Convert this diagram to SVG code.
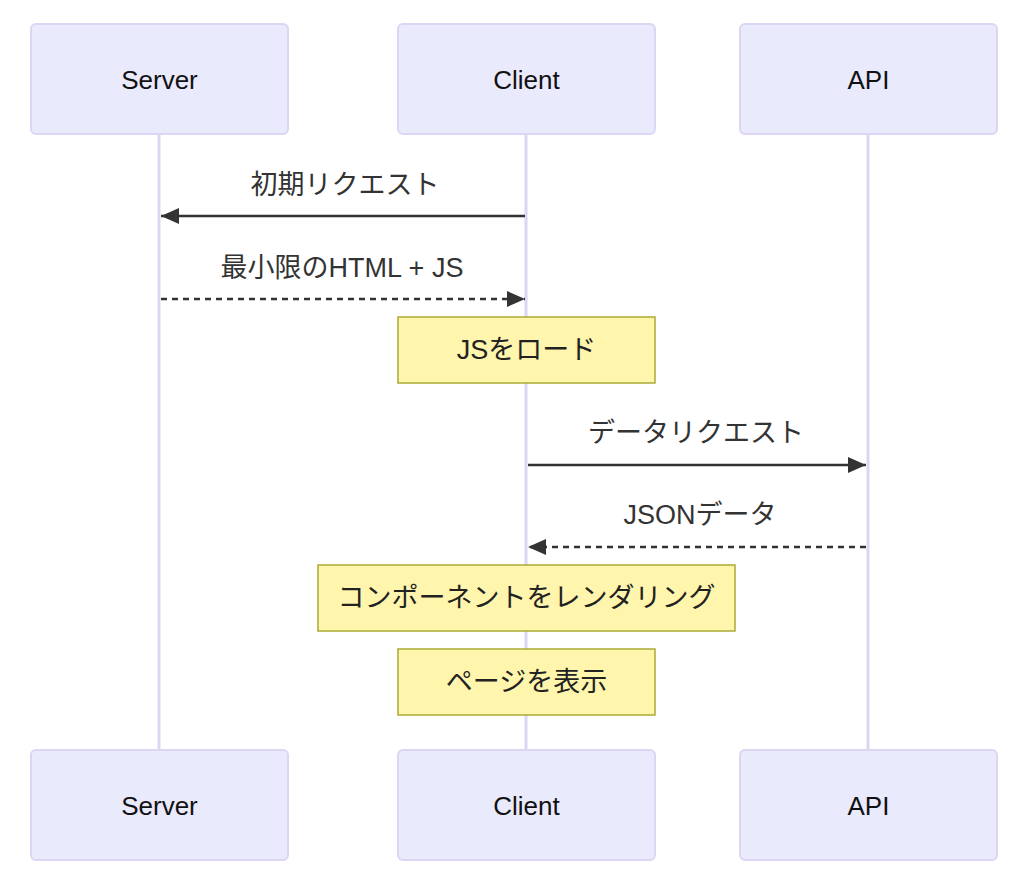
<svg xmlns="http://www.w3.org/2000/svg" width="1022" height="885" viewBox="0 0 1022 885">
<style>
.actor{fill:#eaeafd;stroke:#ddd5f4;stroke-width:2}
.life{stroke:#ddd5f4;stroke-width:3}
.atext{font-family:"Liberation Sans","Noto Sans CJK JP",sans-serif;font-size:26px;fill:#111;text-anchor:middle;dominant-baseline:central}
.note{fill:#fff5ad;stroke:#aaaa33;stroke-width:1.5}
.ntext{font-family:"Liberation Sans","Noto Sans CJK JP",sans-serif;font-size:27px;fill:#222;text-anchor:middle;dominant-baseline:central}
.mtext{font-family:"Liberation Sans","Noto Sans CJK JP",sans-serif;font-size:27px;fill:#333;text-anchor:middle;dominant-baseline:central}
.msg{stroke:#333;stroke-width:2.5;fill:none}
.dash{stroke-dasharray:6 5}
</style>
<defs>
<marker id="ah2" viewBox="0 0 18 16" refX="18" refY="8" markerWidth="18" markerHeight="16" markerUnits="userSpaceOnUse" orient="auto">
<path d="M0,0 L18,8 L0,16 z" fill="#333"/>
</marker>
</defs>
<g id="lifelines">
<line class="life" x1="159" y1="134" x2="159" y2="750"/>
<line class="life" x1="526" y1="134" x2="526" y2="750"/>
<line class="life" x1="868" y1="134" x2="868" y2="750"/>
</g>
<g id="actor-server-top"><rect class="actor" x="31" y="24" width="257" height="110" rx="5"/><text class="atext" x="159.5" y="80">Server</text></g>
<g id="actor-client-top"><rect class="actor" x="398" y="24" width="257" height="110" rx="5"/><text class="atext" x="526.5" y="80">Client</text></g>
<g id="actor-api-top"><rect class="actor" x="740" y="24" width="257" height="110" rx="5"/><text class="atext" x="868.5" y="80">API</text></g>
<g id="actor-server-bottom"><rect class="actor" x="31" y="750" width="257" height="110" rx="5"/><text class="atext" x="159.5" y="806">Server</text></g>
<g id="actor-client-bottom"><rect class="actor" x="398" y="750" width="257" height="110" rx="5"/><text class="atext" x="526.5" y="806">Client</text></g>
<g id="actor-api-bottom"><rect class="actor" x="740" y="750" width="257" height="110" rx="5"/><text class="atext" x="868.5" y="806">API</text></g>
<g id="connectors">
<line class="msg" x1="525" y1="216" x2="161" y2="216" marker-end="url(#ah2)"/>
<text class="mtext" x="345" y="185">初期リクエスト</text>
<line class="msg dash" x1="161" y1="299" x2="525" y2="299" marker-end="url(#ah2)"/>
<text class="mtext" x="342" y="268">最小限のHTML + JS</text>
<line class="msg" x1="528" y1="465" x2="866" y2="465" marker-end="url(#ah2)"/>
<text class="mtext" x="696" y="433">データリクエスト</text>
<line class="msg dash" x1="866" y1="547" x2="528" y2="547" marker-end="url(#ah2)"/>
<text class="mtext" x="700" y="515">JSONデータ</text>
</g>
<g id="note-load"><rect class="note" x="398" y="317" width="257" height="66"/><text class="ntext" x="526.5" y="350">JSをロード</text></g>
<g id="note-render"><rect class="note" x="318" y="565" width="417" height="66"/><text class="ntext" x="526.5" y="598">コンポーネントをレンダリング</text></g>
<g id="note-show"><rect class="note" x="398" y="649" width="257" height="66"/><text class="ntext" x="526.5" y="682">ページを表示</text></g>
</svg>
